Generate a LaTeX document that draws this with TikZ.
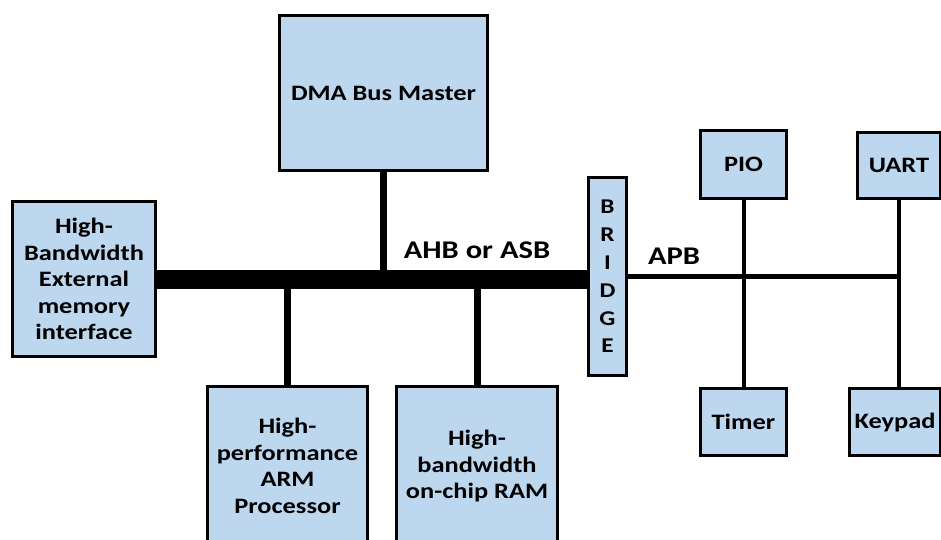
\documentclass[tikz,border=0pt]{standalone}
\usepackage{fontspec}
\setmainfont{Carlito}[FakeStretch=1.2]
\usetikzlibrary{calc}
\definecolor{boxfill}{HTML}{BDD7EE}
\tikzset{blk/.style={draw=black,fill=boxfill,line width=3pt,align=center,
    inner sep=0pt,font=\bfseries\fontsize{22}{26.5}\selectfont},
  ahb/.style={line width=19pt},
  tap/.style={line width=7pt},
  apb/.style={line width=5pt},
  ptap/.style={line width=4pt},
  buslab/.style={font=\bfseries\fontsize{25.5}{30}\selectfont}}

\begin{document}
\begin{tikzpicture}[x=1pt,y=-1pt]
  \useasboundingbox (0,0) rectangle (941,539);
  \clip (0,0) rectangle (941,539);
  % high-speed side
  \node[blk,minimum width=143,minimum height=155] (extmem) at (84,279)
    {High-\\Bandwidth\\External\\memory\\interface};
  \node[blk,minimum width=208,minimum height=155] (dma) at (383.5,93) {DMA Bus Master};
  \node[blk,minimum width=160,minimum height=159] (arm) at (287.5,466)
    {High-\\performance\\ARM\\Processor};
  \node[blk,minimum width=161,minimum height=159] (ram) at (477,466)
    {High-\\bandwidth\\on-chip RAM};
  \node[blk,minimum width=38,minimum height=198,
    font=\bfseries\fontsize{21}{27.8}\selectfont] (bridge) at (607.5,276.5)
    {B\\R\\I\\D\\G\\E};
  % peripheral side
  \node[blk,minimum width=86,minimum height=68] (pio) at (743.5,164.5) {PIO};
  \node[blk,minimum width=86,minimum height=67] (timer) at (743.5,422) {Timer};
  \node[blk,minimum width=83,minimum height=66] (uart) at (899,165.5) {UART};
  \node[blk,minimum width=91,minimum height=67] (keypad) at (895,422) {Keypad};
  % buses
  \draw[ahb] (extmem.east) -- (extmem.east -| bridge.west);
  \draw[tap] (dma.south) -- (dma.south |- extmem.east);
  \draw[tap] (arm.north) -- (arm.north |- extmem.east);
  \draw[tap] (ram.north) -- (ram.north |- extmem.east);
  \draw[apb] (bridge.east) -- (bridge.east -| uart.south);
  \draw[ptap] (pio.south) -- (timer.north);
  \draw[ptap] (uart.south) -- (uart.south |- keypad.north);
  \node[buslab] (ahblab) at (477,250) {AHB or ASB};
  \node[buslab] (apblab) at (674,256) {APB};
\end{tikzpicture}
\end{document}
